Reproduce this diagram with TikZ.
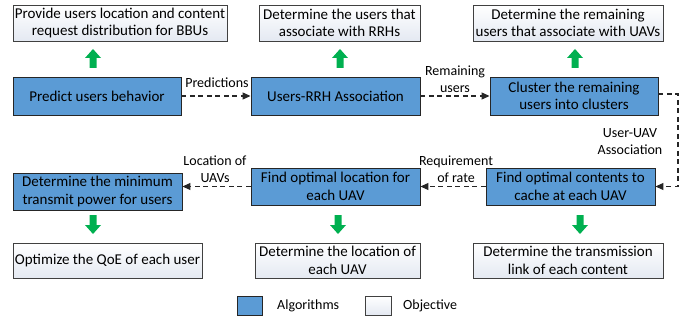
\documentclass[tikz,border=0pt]{standalone}
\usepackage{fontspec}
\setmainfont{Carlito}
\usetikzlibrary{arrows.meta,positioning}
\definecolor{algblue}{HTML}{5B9BD5}
\definecolor{objbot}{HTML}{E4E9F2}
\definecolor{garr}{HTML}{00B050}
\tikzset{
  alg/.style={draw=black!85, line width=0.9pt, fill=algblue, align=center, inner sep=0pt,
    font=\fontsize{15}{17.5}\selectfont},
  obj/.style={draw=black!75, line width=0.9pt, top color=white, bottom color=objbot, align=center, inner sep=0pt,
    font=\fontsize{15}{17.5}\selectfont},
  lbl/.style={align=center, inner sep=0pt, font=\fontsize{14}{17}\selectfont},
  dflow/.style={dash pattern=on 5pt off 3.5pt, line width=1.1pt, black!85, -{Triangle[length=8pt,width=7pt]}},
  garrow/.style={fill=garr, draw=none},
}
\newcommand{\uparr}[2]{\fill[garrow, shift={(#1,#2)}] (-3.5,0) -- (-3.5,10) -- (-8,10) -- (0,19) -- (8,10) -- (3.5,10) -- (3.5,0) -- cycle;}
\newcommand{\downarr}[2]{\fill[garrow, shift={(#1,#2)}] (-3.5,0) -- (-3.5,-10) -- (-8,-10) -- (0,-19) -- (8,-10) -- (3.5,-10) -- (3.5,0) -- cycle;}
\begin{document}
\begin{tikzpicture}[x=1pt,y=1pt]
\useasboundingbox (0,0) rectangle (694,322);
% top objectives
\node[obj, minimum width=214, minimum height=36] (o1) at (120,299) {Provide users location and content\\request distribution for BBUs};
\node[obj, minimum width=161, minimum height=36] (o2) at (339.5,299) {Determine the users that\\associate with RRHs};
\node[obj, minimum width=190, minimum height=36] (o3) at (568,299) {Determine the remaining\\users that associate with UAVs};
% row 1 algorithms
\node[alg, minimum width=168, minimum height=38] (a1) at (97,226) {Predict users behavior};
\node[alg, minimum width=169, minimum height=38] (a2) at (335.5,226) {Users-RRH Association};
\node[alg, minimum width=168, minimum height=38] (a3) at (574,226) {Cluster the remaining\\users into clusters};
% row 2 algorithms
\node[alg, minimum width=169, minimum height=37] (a4) at (97.5,130.5) {Determine the minimum\\transmit power for users};
\node[alg, minimum width=169, minimum height=37] (a5) at (335.5,135.5) {Find optimal location for\\each UAV};
\node[alg, minimum width=169, minimum height=37] (a6) at (570.5,135.5) {Find optimal contents to\\cache at each UAV};
% bottom objectives
\node[obj, minimum width=189, minimum height=35] (b1) at (107.5,61.5) {Optimize the QoE of each user};
\node[obj, minimum width=165, minimum height=35] (b2) at (337.5,61.5) {Determine the location of\\each UAV};
\node[obj, minimum width=190, minimum height=35] (b3) at (568,61.5) {Determine the transmission\\link of each content};
% green arrows
\uparr{93}{254}
\uparr{340}{254}
\uparr{575}{254}
\downarr{93}{107}
\downarr{338}{107}
\downarr{580}{107}
% dashed flows
\draw[dflow] (a1.east) -- (a2.west);
\node[lbl] (l1) at (217,239) {Predictions};
\draw[dflow] (a2.east) -- (a3.west);
\node[lbl] (l2) at (455,242.5) {Remaining\\users};
\coordinate (c1) at (678,228);
\draw[dflow] ([yshift=2pt]a3.east) -- (c1) |- (a6.east);
\node[lbl] (l3) at (630,180) {User-UAV\\Association};
\draw[dflow] (a6.west) -- (a5.east);
\node[lbl] (l4) at (456,152.5) {Requirement\\of rate};
\draw[dflow] (a5.west) -- (a4.east |- a5.west);
\node[lbl] (l5) at (215,152.5) {Location of\\UAVs};
% legend
\node[alg, minimum width=25, minimum height=19] (k1) at (249.5,16.5) {};
\node[lbl, anchor=west] (k1t) at (277,16.5) {Algorithms};
\node[obj, minimum width=26, minimum height=19] (k2) at (378,16.5) {};
\node[lbl, anchor=west] (k2t) at (403,16.5) {Objective};
\end{tikzpicture}
\end{document}
